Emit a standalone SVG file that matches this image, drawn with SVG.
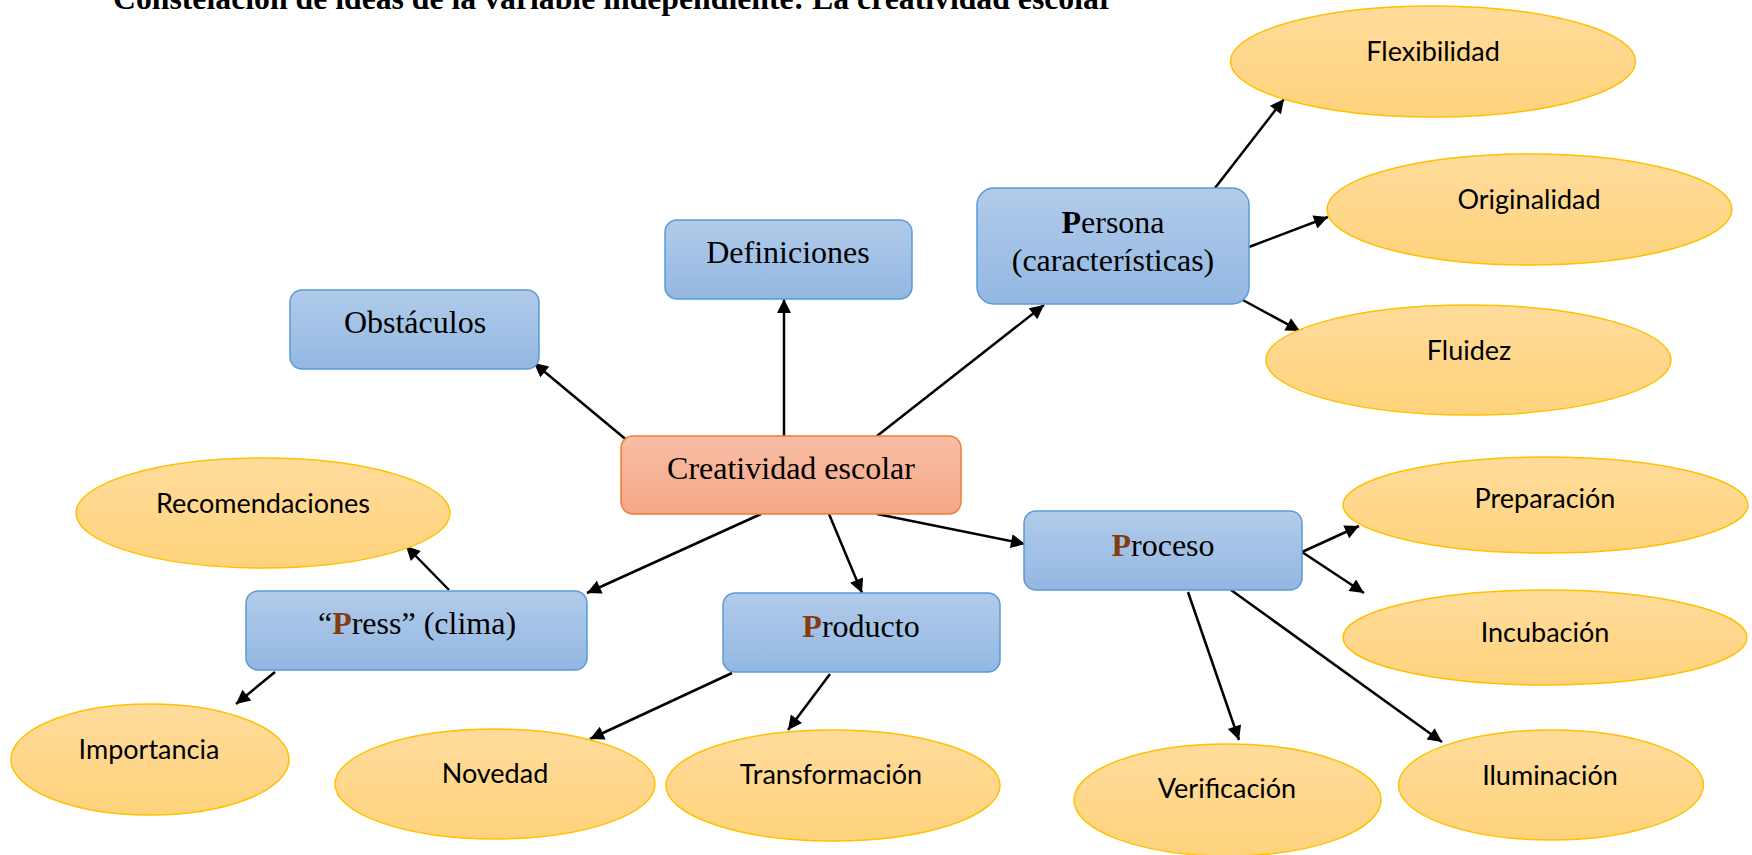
<svg xmlns="http://www.w3.org/2000/svg" width="1752" height="855" viewBox="0 0 1752 855">
<defs>
<linearGradient id="gBlue" x1="0" y1="0" x2="0" y2="1"><stop offset="0" stop-color="#B1CBEA"/><stop offset="1" stop-color="#93B7E2"/></linearGradient>
<linearGradient id="gOrange" x1="0" y1="0" x2="0" y2="1"><stop offset="0" stop-color="#F8BFA6"/><stop offset="1" stop-color="#F4A685"/></linearGradient>
<linearGradient id="gYellow" x1="0" y1="0" x2="0" y2="1"><stop offset="0" stop-color="#FFDC9C"/><stop offset="1" stop-color="#FFD37C"/></linearGradient>
<marker id="arr" viewBox="0 0 10 10" refX="10" refY="5" markerWidth="7" markerHeight="5.6" orient="auto" markerUnits="strokeWidth"><path d="M0,0 L10,5 L0,10 z" fill="#000"/></marker>
</defs>
<style>
.box{fill:url(#gBlue);stroke:#5B9BD5;stroke-width:1.5}
.core{fill:url(#gOrange);stroke:#ED7D31;stroke-width:1.5}
.ell{fill:url(#gYellow);stroke:#FFC000;stroke-width:1.5}
.serif{font-family:"Liberation Serif","Times New Roman",serif;font-size:32px;fill:#000;text-anchor:middle}
.sans{font-family:Lato,"Open Sans",sans-serif;font-size:27px;fill:#000;text-anchor:middle}
.bp{font-weight:bold;fill:#843C0C}
.bk{font-weight:bold}
.con line{stroke:#000;stroke-width:2.5;marker-end:url(#arr)}
.title{font-family:"Liberation Serif","Times New Roman",serif;font-size:31px;font-weight:bold;fill:#000}
</style>
<rect width="1752" height="855" fill="#fff"/>
<text class="title" x="113" y="9" textLength="1000" lengthAdjust="spacingAndGlyphs">Constelación de ideas de la variable independiente: La creatividad escolar</text>

<g id="connectors" class="con">
<line x1="629" y1="442" x2="534" y2="363"/>
<line x1="784" y1="436" x2="784" y2="299"/>
<line x1="877" y1="436" x2="1044" y2="305"/>
<line x1="1215" y1="188" x2="1284" y2="99"/>
<line x1="1249" y1="247" x2="1328" y2="217"/>
<line x1="1241" y1="299" x2="1300" y2="331"/>
<line x1="877" y1="514" x2="1025" y2="544"/>
<line x1="761" y1="514" x2="587" y2="593"/>
<line x1="829" y1="514" x2="862" y2="593"/>
<line x1="449" y1="590" x2="406" y2="546"/>
<line x1="275" y1="672" x2="236" y2="704"/>
<line x1="732" y1="673" x2="590" y2="739"/>
<line x1="830" y1="674" x2="788" y2="730"/>
<line x1="1302" y1="552" x2="1359" y2="526"/>
<line x1="1302" y1="552" x2="1364" y2="593"/>
<line x1="1188" y1="592" x2="1239" y2="740"/>
<line x1="1231" y1="590" x2="1442" y2="742"/>
</g>

<g id="creatividad"><rect class="core" x="621" y="436" width="340" height="78" rx="12"/><text class="serif" x="791" y="479">Creatividad escolar</text></g>
<g id="obstaculos"><rect class="box" x="290" y="290" width="249" height="79" rx="12"/><text class="serif" x="415" y="333">Obstáculos</text></g>
<g id="definiciones"><rect class="box" x="665" y="220" width="247" height="79" rx="12"/><text class="serif" x="788" y="263">Definiciones</text></g>
<g id="persona"><rect class="box" x="977" y="188" width="272" height="116" rx="17"/><text class="serif" x="1113" y="233"><tspan class="bk">P</tspan>ersona</text><text class="serif" x="1113" y="271">(características)</text></g>
<g id="press"><rect class="box" x="246" y="591" width="341" height="79" rx="12"/><text class="serif" x="417" y="634">“<tspan class="bp">P</tspan>ress” (clima)</text></g>
<g id="producto"><rect class="box" x="723" y="593" width="277" height="79" rx="12"/><text class="serif" x="861" y="637"><tspan class="bp">P</tspan>roducto</text></g>
<g id="proceso"><rect class="box" x="1024" y="511" width="278" height="79" rx="12"/><text class="serif" x="1163" y="556"><tspan class="bp">P</tspan>roceso</text></g>

<g id="flexibilidad"><ellipse class="ell" cx="1433" cy="61.5" rx="202.5" ry="55.5"/><text class="sans" x="1433" y="61">Flexibilidad</text></g>
<g id="originalidad"><ellipse class="ell" cx="1529.5" cy="209.5" rx="202.5" ry="55.5"/><text class="sans" x="1529" y="209">Originalidad</text></g>
<g id="fluidez"><ellipse class="ell" cx="1468.5" cy="360" rx="202.5" ry="55"/><text class="sans" x="1469" y="360">Fluidez</text></g>
<g id="preparacion"><ellipse class="ell" cx="1545.5" cy="505" rx="202.5" ry="48"/><text class="sans" x="1545" y="508">Preparación</text></g>
<g id="incubacion"><ellipse class="ell" cx="1545" cy="637.5" rx="202" ry="47.5"/><text class="sans" x="1545" y="642">Incubación</text></g>
<g id="iluminacion"><ellipse class="ell" cx="1551" cy="785" rx="152.5" ry="55"/><text class="sans" x="1550" y="785">Iluminación</text></g>
<g id="verificacion"><ellipse class="ell" cx="1227.5" cy="800" rx="153.5" ry="56"/><text class="sans" x="1227" y="798">Verificación</text></g>
<g id="transformacion"><ellipse class="ell" cx="833" cy="785.5" rx="167" ry="55.5"/><text class="sans" x="831" y="784">Transformación</text></g>
<g id="novedad"><ellipse class="ell" cx="495" cy="784" rx="160" ry="55"/><text class="sans" x="495" y="783">Novedad</text></g>
<g id="importancia"><ellipse class="ell" cx="150" cy="759.5" rx="139" ry="55.5"/><text class="sans" x="149" y="759">Importancia</text></g>
<g id="recomendaciones"><ellipse class="ell" cx="263" cy="513" rx="187" ry="55"/><text class="sans" x="263" y="513">Recomendaciones</text></g>
</svg>
